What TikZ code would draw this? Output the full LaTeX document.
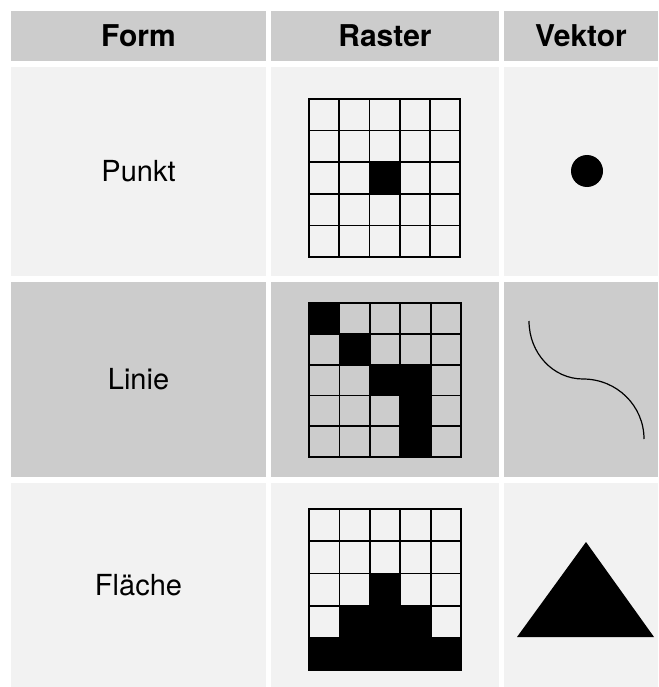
\documentclass[tikz,border=0pt]{standalone}
\usepackage{fontspec}
\setmainfont{TeX Gyre Heros}
\definecolor{hdrgray}{HTML}{CCCCCC}
\definecolor{lightgray}{HTML}{F2F2F2}
\begin{document}
\begin{tikzpicture}[x=1pt,y=-1pt,
  cell/.style={rectangle,inner sep=0pt,outer sep=0pt,draw=none,anchor=north west},
  hdr/.style={cell,fill=hdrgray,minimum height=50pt,font=\fontsize{30}{34}\selectfont\bfseries},
  body/.style={cell,font=\fontsize{29}{34}\selectfont},
  gridline/.style={line width=1.8pt,line cap=rect},
  blackcell/.style={fill=black}
]
\useasboundingbox (0,0) rectangle (658,687);
\fill[white] (0,0) rectangle (658,687);
% header
\node[hdr,minimum width=255pt] (hform) at (11,11) {Form};
\node[hdr,minimum width=228pt] (hraster) at (271,11) {Raster};
\node[hdr,minimum width=154pt] (hvektor) at (504,11) {Vektor};
% row 1
\node[body,fill=lightgray,minimum width=255pt,minimum height=209pt] (punkt) at (11,67) {Punkt};
\node[body,fill=lightgray,minimum width=228pt,minimum height=209pt] (r1raster) at (271,67) {};
\node[body,fill=lightgray,minimum width=154pt,minimum height=209pt] (r1vektor) at (504,67) {};
% row 2
\node[body,fill=hdrgray,minimum width=255pt,minimum height=195pt] (linie) at (11,282) {Linie};
\node[body,fill=hdrgray,minimum width=228pt,minimum height=195pt] (r2raster) at (271,282) {};
\node[body,fill=hdrgray,minimum width=154pt,minimum height=195pt] (r2vektor) at (504,282) {};
% row 3
\node[body,fill=lightgray,minimum width=255pt,minimum height=204pt] (flaeche) at (11,483) {Fläche};
\node[body,fill=lightgray,minimum width=228pt,minimum height=204pt] (r3raster) at (271,483) {};
\node[body,fill=lightgray,minimum width=154pt,minimum height=204pt] (r3vektor) at (504,483) {};
% raster 1: point
\begin{scope}[shift={(309,99)},x=30.2pt,y=-31.6pt]
  \fill[blackcell] (2,2) rectangle (3,3);
  \foreach \k in {0,...,5} {\draw[gridline] (\k,0) -- (\k,5); \draw[gridline] (0,\k) -- (5,\k);}
\end{scope}
% raster 2: line
\begin{scope}[shift={(309,303)},x=30.4pt,y=-30.8pt]
  \fill[blackcell] (0,0) rectangle (1,1);
  \fill[blackcell] (1,1) rectangle (2,2);
  \fill[blackcell] (2,2) rectangle (4,3);
  \fill[blackcell] (3,3) rectangle (4,5);
  \foreach \k in {0,...,5} {\draw[gridline] (\k,0) -- (\k,5); \draw[gridline] (0,\k) -- (5,\k);}
\end{scope}
% raster 3: area
\begin{scope}[shift={(309,509)},x=30.4pt,y=-32.2pt]
  \fill[blackcell] (2,2) rectangle (3,3);
  \fill[blackcell] (1,3) rectangle (4,4);
  \fill[blackcell] (0,4) rectangle (5,5);
  \foreach \k in {0,...,5} {\draw[gridline] (\k,0) -- (\k,5); \draw[gridline] (0,\k) -- (5,\k);}
\end{scope}
% vector point
\fill (587,171) circle (16pt);
% vector line
\draw[line width=1.2pt] (529,321) .. controls (529,353) and (553,379) .. (583,379)
  .. controls (617,379) and (644,406) .. (644,439);
% vector area
\fill (586,542) -- (654,637) -- (517,637) -- cycle;
\end{tikzpicture}
\end{document}
